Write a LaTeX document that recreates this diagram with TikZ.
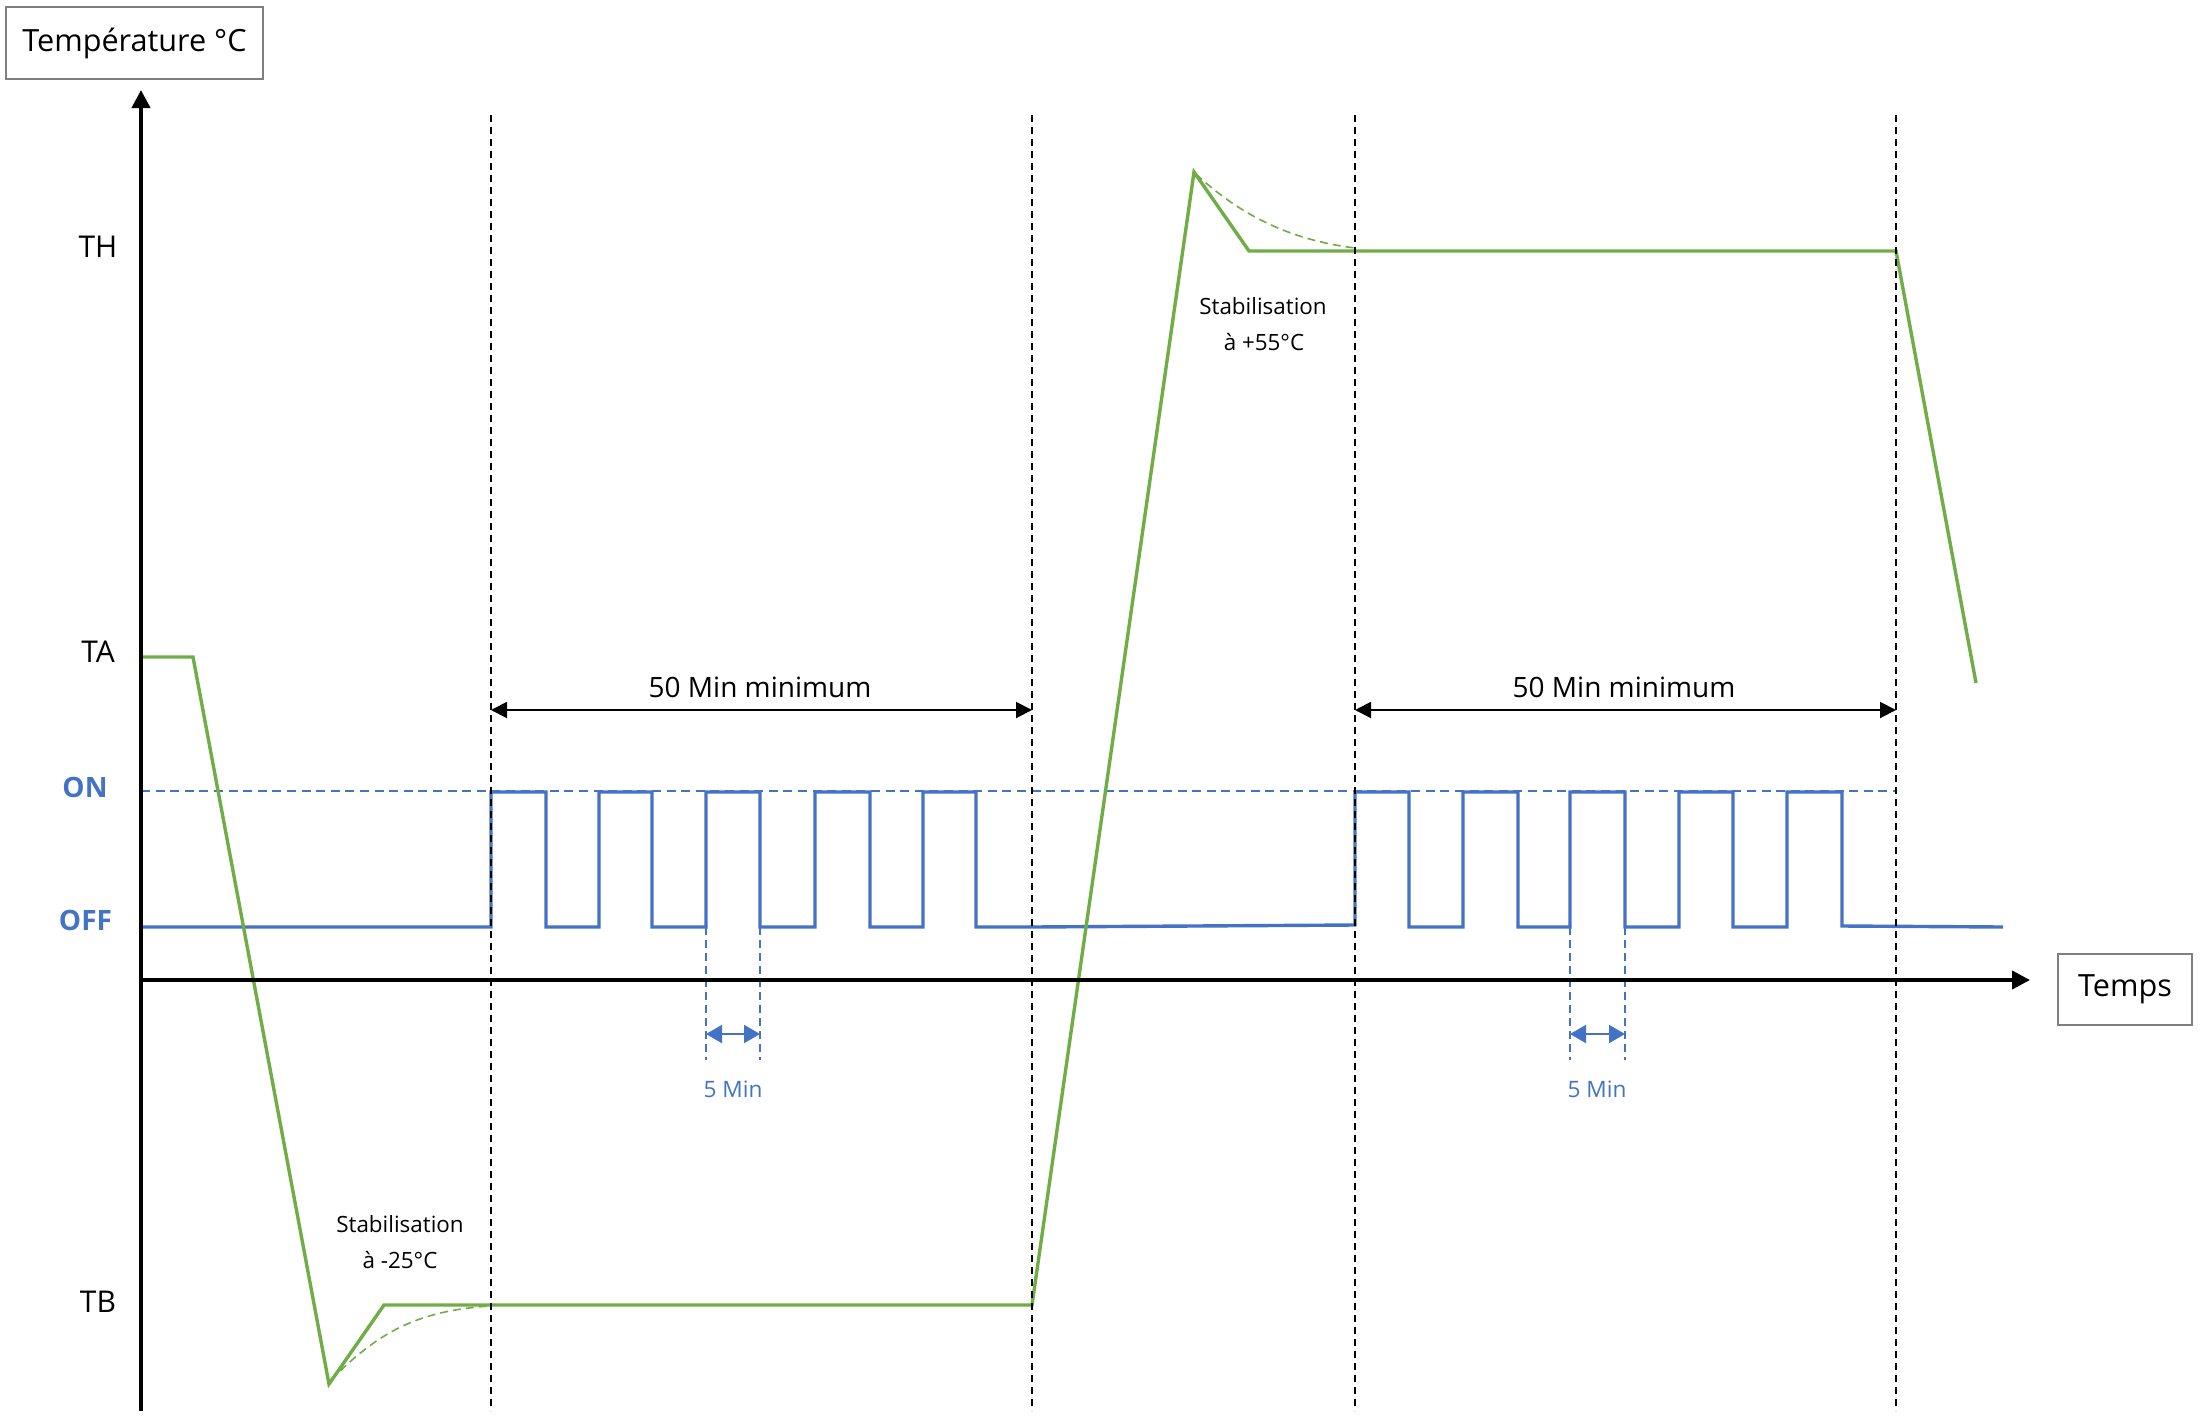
\documentclass[tikz,border=0pt]{standalone}
\usepackage{fontspec}
\setmainfont{Open Sans}
\usetikzlibrary{arrows.meta}
\definecolor{grn}{HTML}{70AD47}
\definecolor{blu}{HTML}{4472C4}
\definecolor{boxgray}{HTML}{7F7F7F}
\tikzset{
  axis/.style={line width=2pt, -{Triangle[length=9pt,width=9pt]}},
  vdash/.style={line width=1pt, dash pattern=on 3.5pt off 2.5pt},
  ondash/.style={blu, line width=0.9pt, dash pattern=on 4.5pt off 2.8pt},
  mindash/.style={blu, line width=0.8pt, dash pattern=on 4pt off 2.5pt},
  grncurve/.style={grn, line width=1.7pt, line join=miter},
  grndash/.style={grn, line width=0.8pt, dash pattern=on 4pt off 2.5pt},
  wave/.style={blu, line width=1.7pt},
  dim/.style={line width=1pt, {Triangle[length=8pt,width=8pt]}-{Triangle[length=8pt,width=8pt]}},
  fivedim/.style={blu, line width=1pt, {Triangle[length=8pt,width=9pt]}-{Triangle[length=8pt,width=9pt]}},
  lab/.style={anchor=base, inner sep=0pt, font=\fontsize{15}{18}\selectfont},
  onoff/.style={anchor=base, inner sep=0pt, text=blu, font=\fontsize{14}{17}\selectfont\bfseries},
  bigtxt/.style={anchor=base, inner sep=0pt, font=\fontsize{14}{17}\selectfont},
  smalltxt/.style={anchor=base, inner sep=0pt, font=\fontsize{11.2}{13}\selectfont},
  bluetxt/.style={anchor=base, inner sep=0pt, text=blu, font=\fontsize{11.3}{13}\selectfont},
  axbox/.style={draw=boxgray, line width=0.75pt, inner sep=0pt, font=\fontsize{15.3}{18}\selectfont}
}
\begin{document}
\begin{tikzpicture}[x=0.5pt,y=-0.5pt]
\useasboundingbox (0,0) rectangle (2201,1424);

% boxes
\node[axbox, minimum width=128.5pt, minimum height=36pt] (tempbox) at (134.5,43) {Température °C};
\node[axbox, minimum width=67pt, minimum height=35.5pt] (timebox) at (2125,989.5) {Temps};

% level labels
\node[lab] (th) at (98,257) {TH};
\node[lab] (ta) at (98,662) {TA};
\node[lab] (tb) at (98,1312) {TB};
\node[onoff] (on) at (85,797) {ON};
\node[onoff] (off) at (85.5,930) {OFF};

% coordinates
\coordinate (o) at (141,980);
\coordinate (ytop) at (141,90);
\coordinate (ybot) at (141,1411);
\coordinate (xend) at (2030,980);
\coordinate (d1) at (491,115);  \coordinate (d1b) at (491,1411);
\coordinate (d2) at (1032,115); \coordinate (d2b) at (1032,1411);
\coordinate (d3) at (1355,115); \coordinate (d3b) at (1355,1411);
\coordinate (d4) at (1896,115); \coordinate (d4b) at (1896,1411);

% ON reference line
\draw[ondash] (141,791) -- (1896,791);

% blue waveform
\draw[wave] (141,927) -- (491,927)
  -- (491,792) -- (546,792) -- (546,927) -- (599,927)
  -- (599,792) -- (652,792) -- (652,927) -- (706,927)
  -- (706,792) -- (760,792) -- (760,927) -- (815,927)
  -- (815,792) -- (870,792) -- (870,927) -- (923,927)
  -- (923,792) -- (976,792) -- (976,927) -- (1032,927)
  -- (1355,925)
  -- (1355,792) -- (1409,792) -- (1409,927) -- (1463,927)
  -- (1463,792) -- (1518,792) -- (1518,927) -- (1570,927)
  -- (1570,792) -- (1625,792) -- (1625,927) -- (1679,927)
  -- (1679,792) -- (1733,792) -- (1733,927) -- (1787,927)
  -- (1787,792) -- (1842,792) -- (1842,926) -- (2003,927);

% 5 Min markers
\coordinate (m1a) at (706,927); \coordinate (m1b) at (760,927);
\coordinate (m2a) at (1570,927); \coordinate (m2b) at (1625,927);
\draw[mindash] (m1a) -- (706,1060);
\draw[mindash] (m1b) -- (760,1060);
\draw[mindash] (m2a) -- (1570,1060);
\draw[mindash] (m2b) -- (1625,1060);
\coordinate (f1a) at (706,1034); \coordinate (f1b) at (760,1034);
\coordinate (f2a) at (1570,1034); \coordinate (f2b) at (1625,1034);
\draw[fivedim] (f1a) -- (f1b);
\draw[fivedim] (f2a) -- (f2b);
\node[bluetxt] (five1) at (733,1097) {5 Min};
\node[bluetxt] (five2) at (1597,1097) {5 Min};

% green temperature curve
\draw[grncurve] (141,657) -- (193,657) -- (329,1384) -- (384,1305) -- (1032,1305)
  -- (1194,172) -- (1249,251) -- (1896,251) -- (1976,683);
\draw[grndash] (331,1380) .. controls (380,1330) and (420,1311) .. (489,1306);
\draw[grndash] (1196,174) .. controls (1240,215) and (1290,240) .. (1355,248);

% stabilisation labels
\node[smalltxt] (stab1) at (400,1232) {Stabilisation};
\node[smalltxt] (stab1b) at (400,1268) {à -25°C};
\node[smalltxt] (stab2) at (1263,314) {Stabilisation};
\node[smalltxt] (stab2b) at (1264,350) {à +55°C};

% vertical dashed separators
\draw[vdash] (d1) -- (d1b);
\draw[vdash] (d2) -- (d2b);
\draw[vdash] (d3) -- (d3b);
\draw[vdash] (d4) -- (d4b);

% 50 min dimensions
\coordinate (a1) at (491,710); \coordinate (a2) at (1032,710);
\coordinate (a3) at (1355,710); \coordinate (a4) at (1896,710);
\draw[dim] (a1) -- (a2);
\draw[dim] (a3) -- (a4);
\node[bigtxt] (fifty1) at (760,697) {50 Min minimum};
\node[bigtxt] (fifty2) at (1624,697) {50 Min minimum};

% axes
\draw[axis] (ybot) -- (ytop);
\draw[axis] (139,980) -- (xend);
\end{tikzpicture}
\end{document}
